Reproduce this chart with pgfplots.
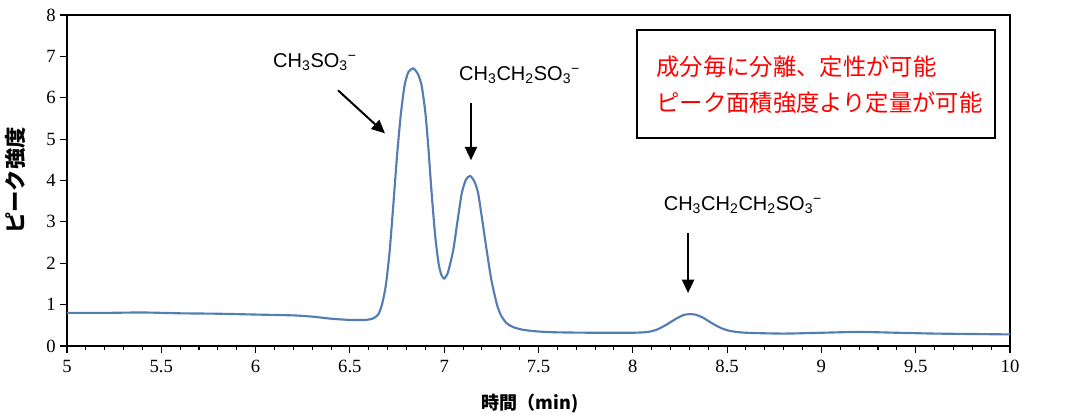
\documentclass[border=0pt]{standalone}
\usepackage{fontspec}
\usepackage{pgfplots}
\pgfplotsset{compat=1.18}
\usetikzlibrary{arrows.meta}
\setmainfont{Liberation Sans}
\newfontfamily\jp{Noto Sans CJK JP}
\newfontfamily\tickfont{Liberation Serif}
\definecolor{curve}{RGB}{84,125,180}

\pgfplotstableread{
t v
5.00 0.80
5.20 0.80
5.40 0.81
5.60 0.79
5.80 0.78
6.00 0.76
6.20 0.74
6.30 0.71
6.40 0.66
6.50 0.63
6.58 0.63
6.62 0.66
6.65 0.76
6.67 1.00
6.69 1.45
6.71 2.25
6.73 3.40
6.75 4.60
6.77 5.60
6.79 6.30
6.81 6.62
6.836 6.71
6.86 6.58
6.88 6.30
6.90 5.65
6.916 4.80
6.93 3.90
6.951 2.72
6.97 2.00
6.985 1.72
7.00 1.63
7.02 1.78
7.048 2.32
7.07 3.00
7.093 3.69
7.115 4.02
7.137 4.11
7.16 3.98
7.18 3.69
7.20 3.10
7.225 2.32
7.25 1.60
7.278 1.03
7.30 0.75
7.331 0.55
7.37 0.45
7.42 0.39
7.50 0.35
7.60 0.33
7.80 0.32
8.00 0.32
8.08 0.34
8.13 0.40
8.18 0.52
8.23 0.66
8.27 0.75
8.30 0.77
8.33 0.76
8.37 0.69
8.42 0.55
8.47 0.43
8.52 0.36
8.60 0.32
8.80 0.30
9.00 0.32
9.20 0.34
9.40 0.32
9.60 0.30
9.80 0.29
10.00 0.28
}\chrom

\begin{document}
\begin{tikzpicture}
\path[use as bounding box] (-50.25pt,-53.25pt) rectangle (755.25pt,259.5pt);
\begin{axis}[
    scale only axis,
    width=707.25pt, height=248.25pt,
    xmin=5, xmax=10, ymin=0, ymax=8,
    xtick={5,5.5,...,10},
    minor x tick num=4,
    ytick={0,1,...,8},
    tick align=outside,
    xtick pos=left, ytick pos=left,
    major tick length=5pt,
    minor tick length=3pt,
    axis line style={line width=0.9pt},
    every tick/.style={black, line width=0.8pt},
    tick label style={font=\tickfont\fontsize{14}{16}\selectfont},
    /pgf/number format/assume math mode=true,
    /pgf/number format/fixed,
    xticklabel style={yshift=-2pt},
    xlabel={\jp\bfseries 時間（min)},
    ylabel={\jp\bfseries ピーク強度},
    xlabel style={font=\fontsize{13.5}{15}\selectfont, at={(axis description cs:0.491,-0.175)}, anchor=center},
    ylabel style={font=\fontsize{16}{18}\selectfont, at={(axis description cs:-0.055,0.5)}, anchor=center},
    clip=false,
]
\addplot[curve, line width=1.6pt, smooth, tension=0.4] table[x=t, y=v] {\chrom};

\node[font=\fontsize{15}{17}\selectfont] at (axis cs:6.315,6.86) {CH\textsubscript{3}SO\textsubscript{3}\textsuperscript{−}};
\draw[-{Triangle[length=10pt,width=9pt]}, line width=1.5pt] (axis cs:6.437,6.18) -- (axis cs:6.686,5.14);
\node[font=\fontsize{15}{17}\selectfont] at (axis cs:7.40,6.55) {CH\textsubscript{3}CH\textsubscript{2}SO\textsubscript{3}\textsuperscript{−}};
\draw[-{Triangle[length=10pt,width=9pt]}, line width=1.5pt] (axis cs:7.142,5.87) -- (axis cs:7.142,4.49);
\node[font=\fontsize{15}{17}\selectfont] at (axis cs:8.584,3.41) {CH\textsubscript{3}CH\textsubscript{2}CH\textsubscript{2}SO\textsubscript{3}\textsuperscript{−}};
\draw[-{Triangle[length=10pt,width=9pt]}, line width=1.5pt] (axis cs:8.293,2.73) -- (axis cs:8.293,1.28);

\draw[line width=1.6pt] (axis cs:8.022,5.02) rectangle (axis cs:9.92,7.63);
\node[anchor=west, text=red, font=\jp\fontsize{17.5}{19}\selectfont] at (axis cs:8.10,6.76) {成分毎に分離、定性が可能};
\node[anchor=west, text=red, font=\jp\fontsize{17.5}{19}\selectfont] at (axis cs:8.10,5.87) {ピーク面積強度より定量が可能};
\end{axis}
\end{tikzpicture}
\end{document}
